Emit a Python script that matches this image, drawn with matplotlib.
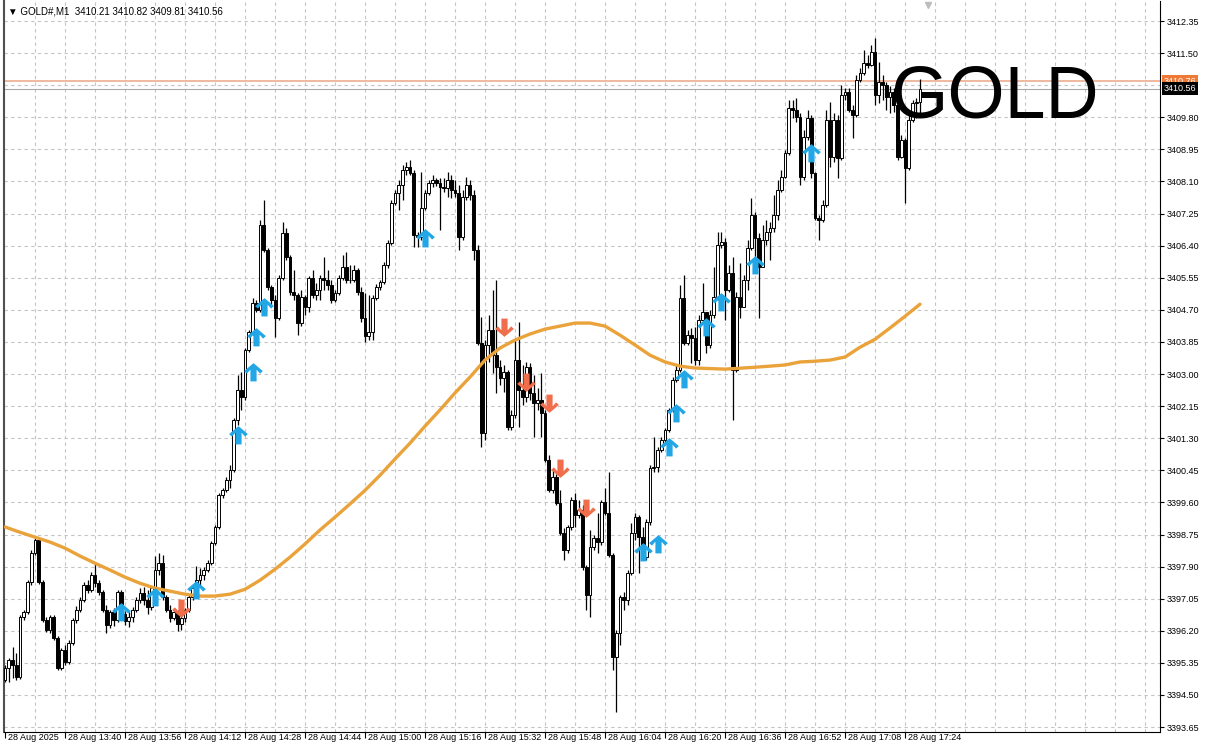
import numpy as np
import matplotlib
matplotlib.use("Agg")
import matplotlib.pyplot as plt
from matplotlib.path import Path
from matplotlib.transforms import blended_transform_factory, ScaledTranslation

plt.rcParams['font.family'] = ['Liberation Sans', 'DejaVu Sans']

# GOLD#, M1 - 28 Aug 2025, first bar at 13:24, last bar at 17:28
first_open = 3394.89

closes = [
    3395.21, 3395.42, 3395.29, 3394.97, 3396.56, 3396.69, 3397.49, 3398.26, 3398.60, 3397.49,
    3396.48, 3396.22, 3396.56, 3396.02, 3395.21, 3395.69, 3395.37, 3395.87, 3396.48, 3396.75,
    3397.01, 3397.41, 3397.28, 3397.67, 3397.46, 3397.23, 3396.75, 3396.35, 3396.69, 3396.48,
    3397.23, 3396.64, 3396.46, 3396.56, 3396.75, 3397.01, 3397.20, 3397.01, 3396.83, 3397.33,
    3397.80, 3397.99, 3397.09, 3396.75, 3396.53, 3396.69, 3396.38, 3396.53, 3396.75, 3397.09,
    3397.33, 3397.54, 3397.67, 3397.80, 3397.99, 3398.52, 3398.95, 3399.79, 3399.92, 3400.19,
    3400.45, 3401.78, 3402.57, 3402.39, 3403.63, 3404.11, 3404.88, 3404.69, 3406.95, 3406.28,
    3405.30, 3404.96, 3404.48, 3405.55, 3406.74, 3406.10, 3405.17, 3405.09, 3404.35, 3405.04,
    3404.77, 3405.55, 3405.09, 3405.22, 3405.55, 3405.49, 3405.36, 3404.96, 3405.14, 3405.55,
    3405.84, 3405.49, 3405.49, 3405.75, 3405.17, 3404.48, 3404.01, 3404.11, 3405.01, 3405.30,
    3405.44, 3405.89, 3406.47, 3407.53, 3407.80, 3408.01, 3408.40, 3408.48, 3408.32, 3406.68,
    3406.63, 3407.40, 3407.80, 3408.06, 3408.14, 3408.06, 3407.95, 3407.93, 3408.14, 3407.87,
    3407.80, 3406.63, 3407.69, 3408.01, 3407.74, 3406.28, 3403.82, 3401.44, 3403.77, 3404.16,
    3403.50, 3403.18, 3402.89, 3403.05, 3401.60, 3401.91, 3403.37, 3402.57, 3402.39, 3403.18,
    3402.49, 3402.23, 3402.31, 3401.97, 3400.72, 3399.92, 3400.27, 3399.58, 3398.79, 3398.34,
    3398.95, 3399.66, 3399.26, 3399.40, 3397.88, 3397.15, 3398.42, 3398.65, 3398.55, 3399.61,
    3399.32, 3398.20, 3395.50, 3396.14, 3397.09, 3397.01, 3397.72, 3398.79, 3399.21, 3398.68,
    3398.15, 3399.08, 3400.51, 3400.54, 3400.98, 3401.25, 3401.52, 3402.05, 3402.84, 3403.11,
    3405.01, 3403.82, 3404.03, 3403.95, 3403.37, 3404.43, 3404.64, 3403.77, 3404.56, 3405.04,
    3406.42, 3406.50, 3405.22, 3405.67, 3403.11, 3405.04, 3404.77, 3405.49, 3406.34, 3407.21,
    3406.60, 3405.83, 3406.55, 3406.76, 3406.87, 3407.21, 3407.87, 3408.22, 3408.85, 3410.05,
    3409.99, 3409.81, 3408.22, 3409.28, 3409.78, 3408.32, 3407.13, 3407.08, 3407.48, 3409.73,
    3408.75, 3409.73, 3408.72, 3410.39, 3410.47, 3409.99, 3409.86, 3410.79, 3410.97, 3411.24,
    3411.18, 3411.53, 3410.39, 3410.73, 3410.66, 3410.34, 3410.47, 3410.12, 3408.75, 3409.20,
    3408.46, 3409.73, 3410.18, 3410.21, 3410.56,
]

highs = [
    3395.29, 3395.47, 3395.77, 3395.61, 3396.61, 3396.75, 3397.54, 3398.34, 3398.68, 3398.65,
    3397.54, 3396.56, 3396.61, 3396.61, 3396.07, 3395.74, 3395.82, 3395.95, 3396.53, 3396.85,
    3397.09, 3397.49, 3397.54, 3397.75, 3398.01, 3397.54, 3397.28, 3396.88, 3396.75, 3396.80,
    3397.28, 3397.28, 3396.72, 3396.69, 3396.83, 3397.09, 3397.33, 3397.36, 3397.28, 3397.38,
    3398.17, 3398.26, 3398.20, 3397.15, 3396.88, 3396.80, 3396.75, 3396.64, 3396.80, 3397.15,
    3397.41, 3397.91, 3397.86, 3397.88, 3398.07, 3398.57, 3399.00, 3399.85, 3399.98, 3400.27,
    3400.59, 3401.83, 3402.97, 3403.05, 3403.69, 3404.16, 3405.01, 3404.96, 3407.08, 3407.61,
    3406.34, 3405.36, 3405.09, 3405.63, 3407.03, 3406.87, 3406.15, 3405.75, 3405.14, 3405.22,
    3405.09, 3405.60, 3405.75, 3405.41, 3405.63, 3406.10, 3405.75, 3405.49, 3405.22, 3405.63,
    3406.15, 3406.23, 3405.89, 3405.89, 3405.81, 3405.30, 3405.14, 3405.09, 3405.09, 3405.38,
    3405.49, 3405.97, 3406.55, 3407.61, 3407.87, 3408.14, 3408.54, 3408.62, 3408.67, 3408.40,
    3406.76, 3408.35, 3407.87, 3408.14, 3408.27, 3408.19, 3408.19, 3408.19, 3408.35, 3408.27,
    3408.14, 3408.01, 3407.87, 3408.22, 3408.14, 3407.87, 3406.42, 3404.51, 3403.90, 3404.56,
    3405.22, 3405.49, 3403.37, 3403.24, 3403.11, 3402.05, 3403.90, 3404.38, 3403.24, 3403.32,
    3403.29, 3402.97, 3402.63, 3403.02, 3402.05, 3400.85, 3400.45, 3400.35, 3399.92, 3398.92,
    3399.00, 3399.74, 3399.85, 3399.66, 3399.53, 3397.94, 3398.87, 3398.73, 3399.32, 3399.66,
    3399.98, 3400.40, 3398.26, 3396.22, 3397.15, 3397.23, 3397.80, 3399.05, 3399.32, 3399.26,
    3398.95, 3399.16, 3400.59, 3401.33, 3401.07, 3401.33, 3401.57, 3402.10, 3402.92, 3403.24,
    3405.36, 3405.62, 3404.16, 3404.22, 3404.24, 3404.56, 3405.41, 3404.48, 3404.69, 3405.83,
    3406.76, 3406.76, 3406.60, 3405.89, 3406.10, 3405.17, 3405.94, 3405.62, 3406.55, 3407.66,
    3407.29, 3406.73, 3406.95, 3407.08, 3407.03, 3407.74, 3408.14, 3408.40, 3408.93, 3410.26,
    3410.26, 3410.31, 3409.91, 3409.46, 3409.99, 3409.86, 3408.35, 3407.21, 3407.61, 3409.99,
    3410.20, 3409.91, 3409.86, 3410.66, 3410.57, 3410.57, 3410.12, 3410.92, 3411.10, 3411.58,
    3411.45, 3411.71, 3411.90, 3411.26, 3410.92, 3410.73, 3410.63, 3410.57, 3410.12, 3409.33,
    3409.25, 3409.86, 3410.26, 3410.31, 3410.82,
]

lows = [
    3394.84, 3394.84, 3394.95, 3394.89, 3394.92, 3396.48, 3396.64, 3397.41, 3398.20, 3397.44,
    3396.43, 3396.16, 3396.14, 3395.95, 3395.16, 3395.16, 3395.29, 3395.32, 3395.82, 3396.40,
    3396.69, 3396.96, 3397.20, 3397.23, 3397.36, 3397.15, 3396.69, 3396.14, 3396.27, 3396.32,
    3396.43, 3396.59, 3396.35, 3396.30, 3396.43, 3396.69, 3396.93, 3396.88, 3396.64, 3396.75,
    3397.23, 3397.67, 3397.01, 3396.69, 3396.43, 3396.48, 3396.19, 3396.22, 3396.43, 3396.69,
    3397.01, 3397.28, 3397.41, 3397.54, 3397.75, 3397.94, 3398.47, 3398.89, 3399.71, 3399.87,
    3399.98, 3400.40, 3401.65, 3402.05, 3402.31, 3403.58, 3404.03, 3404.64, 3404.64, 3406.23,
    3405.22, 3404.83, 3403.98, 3404.43, 3405.49, 3406.02, 3405.09, 3404.96, 3404.03, 3404.27,
    3404.56, 3404.64, 3405.01, 3404.96, 3404.96, 3405.22, 3405.22, 3404.88, 3404.91, 3405.09,
    3405.49, 3405.41, 3405.41, 3405.44, 3405.09, 3404.38, 3403.85, 3403.90, 3403.90, 3404.96,
    3405.22, 3405.38, 3405.81, 3406.42, 3407.48, 3407.34, 3407.61, 3408.27, 3408.27, 3406.36,
    3406.36, 3406.55, 3407.34, 3407.74, 3407.95, 3407.98, 3406.81, 3407.82, 3407.69, 3407.66,
    3407.69, 3406.28, 3406.55, 3407.61, 3407.61, 3406.02, 3403.77, 3401.07, 3401.25, 3403.32,
    3403.02, 3402.49, 3402.71, 3402.52, 3401.52, 3401.52, 3401.83, 3401.60, 3402.18, 3402.26,
    3402.31, 3401.33, 3402.05, 3401.33, 3400.67, 3399.87, 3399.85, 3399.53, 3398.73, 3398.07,
    3398.26, 3398.87, 3398.95, 3399.18, 3397.80, 3396.75, 3396.56, 3398.34, 3398.26, 3398.47,
    3399.26, 3398.15, 3395.16, 3394.05, 3395.82, 3396.75, 3396.88, 3397.67, 3398.60, 3397.72,
    3398.07, 3398.07, 3399.00, 3400.40, 3400.40, 3400.93, 3401.12, 3401.46, 3402.00, 3402.79,
    3403.05, 3403.77, 3403.77, 3403.29, 3403.24, 3403.24, 3404.38, 3403.56, 3403.69, 3404.48,
    3404.96, 3406.34, 3404.43, 3405.17, 3401.78, 3403.05, 3404.48, 3404.77, 3405.22, 3406.28,
    3406.02, 3404.48, 3406.15, 3406.42, 3406.02, 3406.76, 3407.08, 3407.82, 3408.19, 3408.80,
    3409.78, 3409.67, 3408.01, 3408.14, 3409.20, 3408.19, 3407.08, 3406.55, 3407.03, 3407.42,
    3408.48, 3408.61, 3408.19, 3408.67, 3410.26, 3409.94, 3409.25, 3409.81, 3410.73, 3410.92,
    3411.10, 3411.16, 3410.12, 3410.18, 3410.26, 3409.99, 3409.91, 3409.94, 3408.67, 3408.72,
    3407.53, 3408.40, 3409.67, 3409.78, 3409.81,
]

# moving average
ma_bars = [0, 4, 8, 12, 16, 20, 24, 28, 32, 36, 40, 44, 48, 52, 56, 60, 64, 68, 72, 76,
           80, 84, 88, 92, 96, 100, 104, 108, 112, 116, 120, 124, 128, 132, 136, 140,
           144, 148, 152, 156, 160, 164, 168, 172, 176, 180, 184, 192, 200, 208, 212,
           216, 220, 224, 228, 232, 236, 240, 244]
ma_vals = [3398.95, 3398.81, 3398.68, 3398.55, 3398.39, 3398.18, 3397.99, 3397.81, 3397.62,
           3397.46, 3397.33, 3397.25, 3397.17, 3397.12, 3397.12, 3397.17, 3397.30, 3397.54,
           3397.83, 3398.15, 3398.50, 3398.87, 3399.21, 3399.56, 3399.92, 3400.32, 3400.75,
           3401.17, 3401.62, 3402.05, 3402.50, 3402.92, 3403.37, 3403.69, 3403.90, 3404.06,
           3404.19, 3404.27, 3404.35, 3404.35, 3404.27, 3404.03, 3403.77, 3403.50, 3403.32,
           3403.21, 3403.16, 3403.13, 3403.18, 3403.24, 3403.32, 3403.34, 3403.37, 3403.45,
           3403.71, 3403.92, 3404.22, 3404.53, 3404.85]

# signal arrows
buy_bars = [31, 40, 51, 62, 66, 67, 69, 112, 170, 174, 177, 179, 181, 187, 191, 200, 215]
buy_prices = [3396.70, 3397.09, 3397.28, 3401.38, 3403.05, 3403.98, 3404.77, 3406.60, 3398.28,
              3398.50, 3401.07, 3401.97, 3402.87, 3404.24, 3404.91, 3405.89, 3408.85]
sell_bars = [47, 133, 139, 145, 148, 155]
sell_prices = [3396.80, 3404.24, 3402.79, 3402.23, 3400.51, 3399.45]

price_levels = [3393.65, 3394.50, 3395.35, 3396.20, 3397.05, 3397.90, 3398.75, 3399.60,
                3400.45, 3401.30, 3402.15, 3403.00, 3403.85, 3404.70, 3405.55, 3406.40,
                3407.25, 3408.10, 3408.95, 3409.80, 3410.65, 3411.50, 3412.35]
time_labels = ['28 Aug 2025', '28 Aug 13:40', '28 Aug 13:56', '28 Aug 14:12', '28 Aug 14:28',
               '28 Aug 14:44', '28 Aug 15:00', '28 Aug 15:16', '28 Aug 15:32', '28 Aug 15:48',
               '28 Aug 16:04', '28 Aug 16:20', '28 Aug 16:36', '28 Aug 16:52', '28 Aug 17:08',
               '28 Aug 17:24']
ask_price = 3410.76
bid_price = 3410.56

closes = np.array(closes)
opens = np.r_[first_open, closes[:-1]]
highs = np.maximum(np.array(highs), np.maximum(opens, closes))
lows = np.minimum(np.array(lows), np.minimum(opens, closes))
idx = np.arange(len(closes))

fig = plt.figure(figsize=(12.05, 7.45), dpi=100)
ax = fig.add_axes([4 / 1205, 13 / 745, 1156 / 1205, 731 / 745])
ax.set_xlim(-0.27, 308)
ax.set_ylim(3393.52, 3412.88)

# grid
grid_kw = dict(color='#c4c4c4', lw=0.8, ls=(0, (3, 3)), zorder=0)
for p in price_levels:
    ax.axhline(p, **grid_kw)
for b in range(8, 309, 8):
    ax.axvline(b, **grid_kw)

# candles
ax.vlines(idx, lows, highs, color='black', lw=0.9, zorder=2)
up = closes >= opens
ax.bar(idx[up], (closes - opens)[up], bottom=opens[up], width=0.72,
       color='white', edgecolor='black', lw=0.7, zorder=3)
ax.bar(idx[~up], (closes - opens)[~up], bottom=opens[~up], width=0.72,
       color='black', edgecolor='black', lw=0.7, zorder=3)

# moving average
ax.plot(ma_bars, ma_vals, color='#eaa23a', lw=2.4, solid_joinstyle='round',
        solid_capstyle='round', zorder=4)

# ask / bid lines
ax.axhline(ask_price, color='#eba585', lw=1.1, zorder=1)
ax.axhline(bid_price, color='#a8a8a8', lw=0.8, zorder=1)

# arrows
arrow_up = Path([(0, 1), (1, 0.15), (0.7, -0.12), (0.33, 0.3), (0.33, -0.95), (-0.33, -0.95),
                 (-0.33, 0.3), (-0.7, -0.12), (-1, 0.15), (0, 1)], closed=True)
arrow_down = Path([(x, -y) for x, y in arrow_up.vertices], closed=True)
ax.plot(buy_bars, buy_prices, ls='none', marker=arrow_up, ms=13.5,
        color='#22a6e6', mec='none', zorder=5)
ax.plot(sell_bars, sell_prices, ls='none', marker=arrow_down, ms=13.5,
        color='#f06e4c', mec='none', zorder=5)

# axes
ax.yaxis.tick_right()
shown = [p for p in price_levels if abs(p - 3410.65) > 0.01]
ax.set_yticks(shown)
ax.set_yticklabels(['%.2f' % p for p in shown])
ax.set_xticks(range(0, 16 * len(time_labels), 16))
ax.set_xticklabels(time_labels, ha='left')
ax.tick_params(axis='y', length=3, width=0.8, pad=2, labelsize=6.5)
ax.tick_params(axis='x', length=4, width=0.8, pad=-3, labelsize=6.5)
shift = ScaledTranslation(3 / 100, 0, fig.dpi_scale_trans)
for lbl in ax.get_xticklabels():
    lbl.set_transform(lbl.get_transform() + shift)
for s in ['right', 'bottom']:
    ax.spines[s].set_linewidth(0.8)
ax.spines['top'].set_visible(False)
ax.spines['left'].set_color('#505050')
ax.spines['left'].set_linewidth(1.5)

# price tags on right axis
tr = blended_transform_factory(ax.transAxes, ax.transData)
ax.text(1.003, ask_price, '%.2f' % ask_price, transform=tr, fontsize=6.5, color='white',
        va='center', ha='left', clip_on=False,
        bbox=dict(boxstyle='square,pad=0.18', fc='#ef7a36', ec='none'))
ax.text(1.003, bid_price, '%.2f' % bid_price, transform=tr, fontsize=6.5, color='white',
        va='center', ha='left', clip_on=False,
        bbox=dict(boxstyle='square,pad=0.18', fc='black', ec='none'))

# header
ax.text(0.0035, 1 - 10 / 731, '\u25bc GOLD#,M1  %.2f %.2f %.2f %.2f'
        % (opens[-1], highs[-1], lows[-1], closes[-1]),
        transform=ax.transAxes, fontsize=7, va='center', ha='left')
ax.plot([0.799], [0.995], transform=ax.transAxes, marker='v', ms=5, color='#bdbdbd',
        clip_on=False)

fig.text(890 / 1205, 1 - 118 / 745, 'GOLD', fontsize=53, va='baseline', ha='left',
         family='Liberation Sans')

fig.savefig('out.png', dpi=100)
